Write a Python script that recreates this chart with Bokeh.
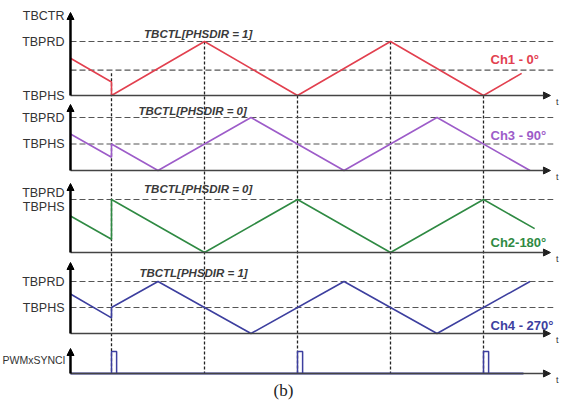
from bokeh.plotting import figure
from bokeh.models import Range1d, Arrow, NormalHead
from bokeh.core.properties import value
from bokeh.embed import file_html
from bokeh.resources import INLINE

# ---------------- data (time in half-periods, t = 0 at first sync pulse) -------------
t_axis = -0.441          # time position of the vertical counter axes
t_arrow = 4.72           # time where the t-axes end
t_dash_end = 4.75

ch1_t = [-0.441, 0, 0, 1, 2, 3, 4, 4.41]
ch1_v = [0.69, 0.25, 0, 1, 0, 1, 0, 0.41]

ch3_t = [-0.441, 0, 0, 0.5, 1.5, 2.5, 3.5, 4.5]
ch3_v = [0.69, 0.25, 0.5, 0, 1, 0, 1, 0]

ch2_t = [-0.441, 0, 0, 1, 2, 3, 4, 4.55]
ch2_v = [0.69, 0.25, 1, 0, 1, 0, 1, 0.45]

ch4_t = [-0.441, 0, 0, 0.5, 1.5, 2.5, 3.5, 4.5]
ch4_v = [0.76, 0.30, 0.5, 1, 0, 1, 0, 1]

sync_t = [0, 2, 4]
sync_w = 0.055
sync_end = 4.43

vline_t = [0, 1, 2, 3, 4]
vline_top_v = [0.41, 1, 0, 1, 0]   # in Ch1 counter units

channel_names = ["Ch1 - 0°", "Ch3 - 90°", "Ch2-180°", "Ch4 - 270°"]
channel_colors = ["#e2404f", "#9d5cc9", "#2f8a43", "#3d3f9f"]
phsdir_texts = ["TBCTL[PHSDIR = 1]", "TBCTL[PHSDIR = 0]", "TBCTL[PHSDIR = 0]", "TBCTL[PHSDIR = 1]"]
phsdir_t = [0.35, 0.29, 0.35, 0.30]

dash_levels = [[1, 0.47], [1, 0.5], [1], [1, 0.5]]
tick_labels = [[("TBPRD", 1), ("TBPHS", 0)],
               [("TBPRD", 1), ("TBPHS", 0.5)],
               [("TBPRD", 1.13), ("TBPHS", 0.85)],
               [("TBPRD", 1), ("TBPHS", 0.5)]]
sync_label = "PWMxSYNCI"

# ---------------- layout (image pixel rows) ----------------
bases = [95, 170, 252, 333, 373]
amps = [54, 53, 53, 52, 22]
tops = [12, 104, 183, 262, 348]


def Y(k, v):
    return bases[k] - v * amps[k]


p = figure(width=580, height=403, output_backend="svg", toolbar_location=None,
           x_range=Range1d(-111 / 93, 469 / 93), y_range=Range1d(403, 0),
           min_border=0, x_axis_location=None, y_axis_location=None)
p.outline_line_color = None
p.xgrid.visible = False
p.ygrid.visible = False
p.background_fill_color = "white"

FONT = value("Liberation Sans")

# vertical dashed timing lines
for t, v in zip(vline_t, vline_top_v):
    p.segment(x0=[t], y0=[Y(0, v)], x1=[t], y1=[bases[4]], line_color="#222222",
              line_width=1.3, line_dash="3 2")

# horizontal dashed levels
for k, levels in enumerate(dash_levels):
    for lv in levels:
        p.segment(x0=[t_axis], y0=[Y(k, lv)], x1=[t_dash_end], y1=[Y(k, lv)],
                  line_color="#555555", line_width=1.2, line_dash="6 3")

# baselines with arrows and vertical axes
for k in range(5):
    p.add_layout(Arrow(end=NormalHead(size=7, fill_color="#222222", line_color="#222222"),
                       x_start=t_axis, y_start=bases[k], x_end=t_arrow, y_end=bases[k],
                       line_color="#444444", line_width=1.3))
    p.text(x=[t_arrow + 0.06], y=[bases[k] + 6], text=["t"], text_font=FONT,
           text_font_size="9px", text_color="#333333", text_baseline="middle")
for k in range(5):
    p.add_layout(Arrow(end=NormalHead(size=7, fill_color="black", line_color="black"),
                       x_start=t_axis, y_start=bases[k], x_end=t_axis, y_end=tops[k],
                       line_color="black", line_width=2.5))

# sync line and pulses
p.line([t_axis, sync_end], [bases[4], bases[4]], line_color=channel_colors[3], line_width=2)
for t in sync_t:
    p.line([t, t, t + sync_w, t + sync_w], [Y(4, 0), Y(4, 1), Y(4, 1), Y(4, 0)],
           line_color=channel_colors[3], line_width=1.5)

# channel waveforms
series = [(ch1_t, ch1_v), (ch3_t, ch3_v), (ch2_t, ch2_v), (ch4_t, ch4_v)]
for k, (ts, vs) in enumerate(series):
    p.line(ts, [Y(k, v) for v in vs], line_color=channel_colors[k], line_width=1.6)

# channel names
name_y = [59, 135, 242, 325]
for k in range(4):
    p.text(x=[(490 - 111) / 93], y=[name_y[k]], text=[channel_names[k]], text_font=FONT,
           text_font_size="13px", text_font_style="bold", text_color=channel_colors[k],
           text_baseline="middle")

# PHSDIR labels
phsdir_y = [33, 110, 188, 272]
for k in range(4):
    p.text(x=[phsdir_t[k]], y=[phsdir_y[k]], text=[phsdir_texts[k]], text_font=FONT,
           text_font_size="11.5px", text_font_style="bold italic", text_color="#3a3a3a",
           text_baseline="middle")

# left level labels
label_t = (64 - 111) / 93
p.text(x=[label_t], y=[15], text=["TBCTR"], text_font=FONT, text_font_size="12.5px",
       text_color="#333333", text_align="right", text_baseline="middle")
for k, labs in enumerate(tick_labels):
    for txt, lv in labs:
        p.text(x=[label_t], y=[Y(k, lv)], text=[txt], text_font=FONT, text_font_size="12.5px",
               text_color="#333333", text_align="right", text_baseline="middle")
p.text(x=[(65 - 111) / 93], y=[Y(4, 0.6)], text=[sync_label], text_font=FONT,
       text_font_size="10.5px", text_color="#333333", text_align="right", text_baseline="middle")

# caption
p.text(x=[(283 - 111) / 93], y=[390], text=["(b)"], text_font=value("Liberation Serif"),
       text_font_size="17px", text_color="#222222", text_align="center", text_baseline="middle")

open("out.html", "w").write(file_html(p, INLINE))
